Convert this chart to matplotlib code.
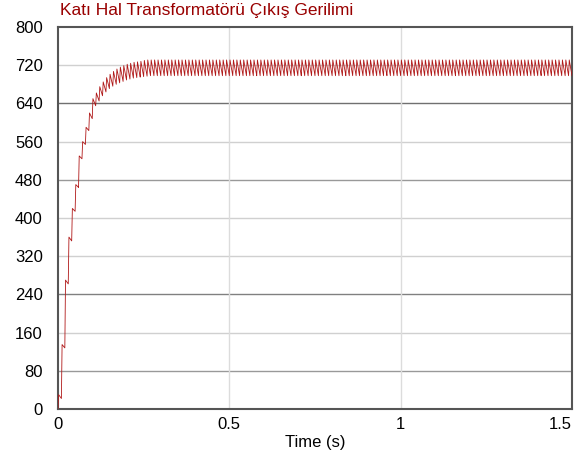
import numpy as np
import matplotlib
matplotlib.use('Agg')
import matplotlib.pyplot as plt

plt.rcParams['font.family'] = ['Liberation Sans', 'DejaVu Sans']

# ripple period (100 Hz, one rectifier pulse every 10 ms)
period = 0.01
# per-cycle peak / trough values during start-up
hi_start = [30, 135, 270, 360, 420, 470, 530, 560, 590, 620,
            650, 662, 675, 685, 694, 701, 707, 712, 716, 719,
            722, 724, 726, 727, 728, 730]
lo_start = [22, 128, 262, 352, 414, 464, 524, 554, 583, 608,
            635, 645, 656, 664, 671, 676, 680, 683, 686, 689,
            691, 693, 694, 695, 696, 697]
# steady state band
hi_ss = 731
lo_ss = 698
n_cycles = 150

yticks = [0, 80, 160, 240, 320, 400, 480, 560, 640, 720, 800]
xticks = [0, 0.5, 1, 1.5]
xtick_labels = ['0', '0.5', '1', '1.5']

hi = hi_start + [hi_ss] * (n_cycles - len(hi_start))
lo = lo_start + [lo_ss] * (n_cycles - len(lo_start))

t = [0.0]
v = [0.0]
prev = 0.0
for k in range(n_cycles):
    t0 = k * period
    t += [t0, t0 + 0.002, t0 + period]
    v += [prev, hi[k], lo[k]]
    prev = lo[k]

fig = plt.figure(figsize=(5.74, 4.63), dpi=100)
ax = fig.add_axes([0.101, 0.1166, 0.8955, 0.8251])

# grid, drawn by hand to get the uneven greys of the original
grid_cols = {80: '#999999', 160: '#d0d0d0', 240: '#808080', 320: '#d0d0d0',
             400: '#d0d0d0', 480: '#999999', 560: '#d0d0d0', 640: '#707070',
             720: '#d0d0d0'}
for yv, c in grid_cols.items():
    ax.axhline(yv, color=c, lw=1.0, zorder=1)
for xv in [0.5, 1.0]:
    ax.axvline(xv, color='#dcdcdc', lw=1.0, zorder=1)

ax.plot(t, v, color='#b01818', lw=0.6, zorder=3)

ax.set_xlim(0, 1.5)
ax.set_ylim(0, 800)
ax.set_xticks(xticks)
ax.set_xticklabels(xtick_labels)
ax.set_yticks(yticks)
ax.tick_params(axis='both', length=0, labelsize=12, colors='black')
ax.tick_params(axis='y', pad=11)
ax.tick_params(axis='x', pad=6)
ax.get_xticklabels()[-1].set_horizontalalignment('right')
ax.set_xlabel('Time (s)', fontsize=12, labelpad=2)

for s in ax.spines.values():
    s.set_color('#555555')
    s.set_linewidth(1.5)

fig.text(0.104, 0.993, 'Katı Hal Transformatörü Çıkış Gerilimi',
         color='#990000', fontsize=12.5, ha='left', va='top')

fig.savefig('out.png', dpi=100)
